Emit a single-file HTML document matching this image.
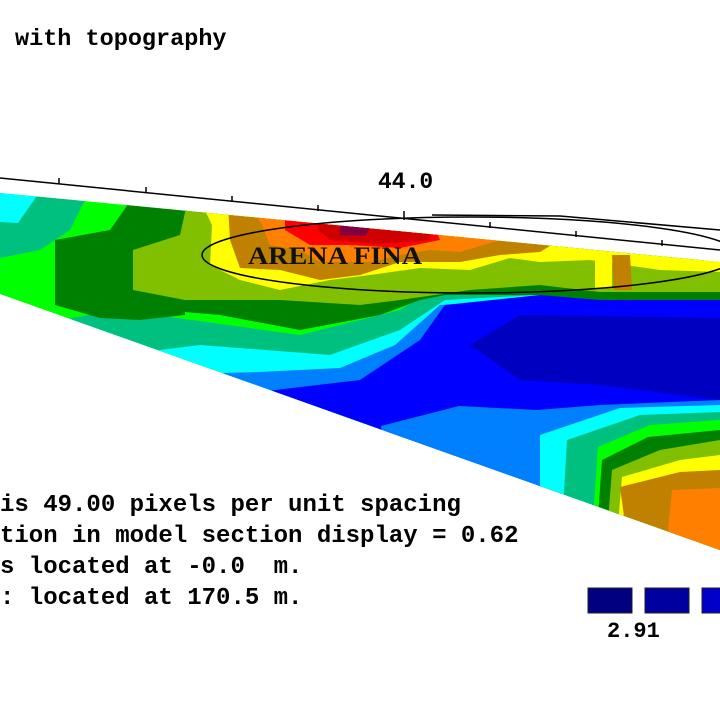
<!DOCTYPE html>
<html><head><style>
body{margin:0;background:#fff;width:720px;height:720px;overflow:hidden;position:relative;font-family:"Liberation Mono",monospace;font-weight:bold;}
.t{position:absolute;font-size:24px;color:#000;white-space:pre;line-height:1;}
</style></head><body>
<svg width="720" height="720" style="position:absolute;left:0;top:0">
<defs><clipPath id="c"><polygon points="0,193 720,262 720,550 0,294"/></clipPath></defs>
<g clip-path="url(#c)">
<rect x="0" y="150" width="720" height="420" fill="#00ff00"/>
<polygon points="0,330 120,310 300,335 400,310 440,285 720,270 720,560 0,560" fill="#00c080"/>
<polygon points="80,360 200,345 330,355 400,330 445,300 720,285 720,560 0,560" fill="#00ffff"/>
<polygon points="150,375 260,372 340,368 395,345 440,305 720,290 720,560 0,560" fill="#0080ff"/>
<polygon points="190,400 360,380 420,340 445,305 540,295 720,300 720,560 0,560" fill="#0000ff"/>
<polygon points="470,345 520,315 720,318 720,400 600,385 520,380" fill="#0000c0"/>
<polygon points="381,426 459,406 537,410 600,405 720,400 720,560 400,560" fill="#0080ff"/>
<polygon points="540,435 620,408 720,405 720,560 540,560" fill="#00ffff"/>
<polygon points="567,440 640,415 720,412 720,560 560,560" fill="#00c080"/>
<polygon points="598,447 650,425 720,420 720,560 590,560" fill="#00ff00"/>
<polygon points="602,460 648,437 720,430 720,560 595,560" fill="#008000"/>
<polygon points="612,470 660,450 720,440 720,560 605,560" fill="#80c000"/>
<polygon points="622,477 680,460 720,455 720,560 615,560" fill="#ffff00"/>
<polygon points="620,487 680,472 720,470 720,560 630,560" fill="#c08000"/>
<polygon points="672,490 720,488 720,560 665,560" fill="#ff8000"/>
<polygon points="0,190 45,190 18,223 0,223" fill="#00ffff"/>
<polygon points="41,190 90,190 70,230 40,250 0,258 0,222 18,223" fill="#00c080"/>
<polygon points="138,190 190,190 185,230 185,315 140,320 100,318 55,305 55,240 110,230" fill="#008000"/>
<polygon points="188,190 600,190 720,270 720,300 600,300 540,295 445,295 420,300 380,315 300,330 220,315 185,312 133,300 133,230 185,220" fill="#008000"/>
<polygon points="190,190 600,190 720,270 720,292 600,292 540,285 470,290 400,300 360,305 280,300 185,300 133,290 133,250 180,235" fill="#80c000"/>
<polygon points="200,200 420,205 720,260 720,280 640,285 560,282 520,270 470,280 410,290 360,296 300,293 260,280 200,270 200,230" fill="#80c000"/>
<polygon points="200,200 420,205 720,262 720,272 660,270 590,260 540,262 510,258 470,270 420,268 370,275 330,280 280,290 240,280 210,265 212,225" fill="#ffff00"/>
<polygon points="228,205 450,215 560,240 540,252 500,255 460,262 400,262 360,275 320,280 280,270 240,268 230,240" fill="#c08000"/>
<polygon points="250,205 450,215 500,240 460,252 430,250 400,255 370,262 320,262 300,250 270,245 262,225" fill="#ff8000"/>
<polygon points="285,205 430,215 440,240 400,248 350,245 310,245 285,230" fill="#ff0000"/>
<polygon points="318,205 430,215 430,240 380,244 330,240 318,230" fill="#d00000"/>
<polygon points="340,225 370,228 365,236 340,235" fill="#800040"/>
<polygon points="612,255 630,255 632,290 614,290" fill="#c08000"/>
<polygon points="595,258 612,258 612,288 595,288" fill="#ffff00"/>
</g>
<polyline points="0,178 720,250" fill="none" stroke="#000" stroke-width="1.5"/>
<polyline points="432,215 560,216 720,230" fill="none" stroke="#000" stroke-width="1.5"/>
<g stroke="#000" stroke-width="1.5">
<line x1="59" y1="178" x2="59" y2="184"/><line x1="146" y1="187" x2="146" y2="193"/><line x1="232" y1="196" x2="232" y2="202"/><line x1="318" y1="205" x2="318" y2="211"/><line x1="404" y1="211" x2="404" y2="220"/><line x1="490" y1="222" x2="490" y2="228"/><line x1="576" y1="231" x2="576" y2="237"/><line x1="662" y1="240" x2="662" y2="246"/>
</g>
<ellipse cx="470" cy="255" rx="268" ry="38" fill="none" stroke="#000" stroke-width="1.5"/>
<text x="248" y="264" font-family="Liberation Serif,serif" font-size="25" fill="#111" font-weight="bold" textLength="174" lengthAdjust="spacingAndGlyphs">ARENA FINA</text>
<rect x="588" y="588" width="44" height="25" fill="#000080" stroke="#222"/>
<rect x="645" y="588" width="44" height="25" fill="#0000a0" stroke="#222"/>
<rect x="702" y="588" width="30" height="25" fill="#0000c8" stroke="#222"/>
</svg>
<div class="t" style="left:15px;top:28px;font-size:23.5px">with topography</div>
<div class="t" style="left:378px;top:171px;font-size:23px">44.0</div>
<div class="t" style="left:0;top:494px">is 49.00 pixels per unit spacing</div>
<div class="t" style="left:0;top:525px">tion in model section display = 0.62</div>
<div class="t" style="left:0;top:556px">s located at -0.0  m.</div>
<div class="t" style="left:0;top:587px">: located at 170.5 m.</div>
<div class="t" style="left:607px;top:621px;font-size:22px">2.91</div>
</body></html>
